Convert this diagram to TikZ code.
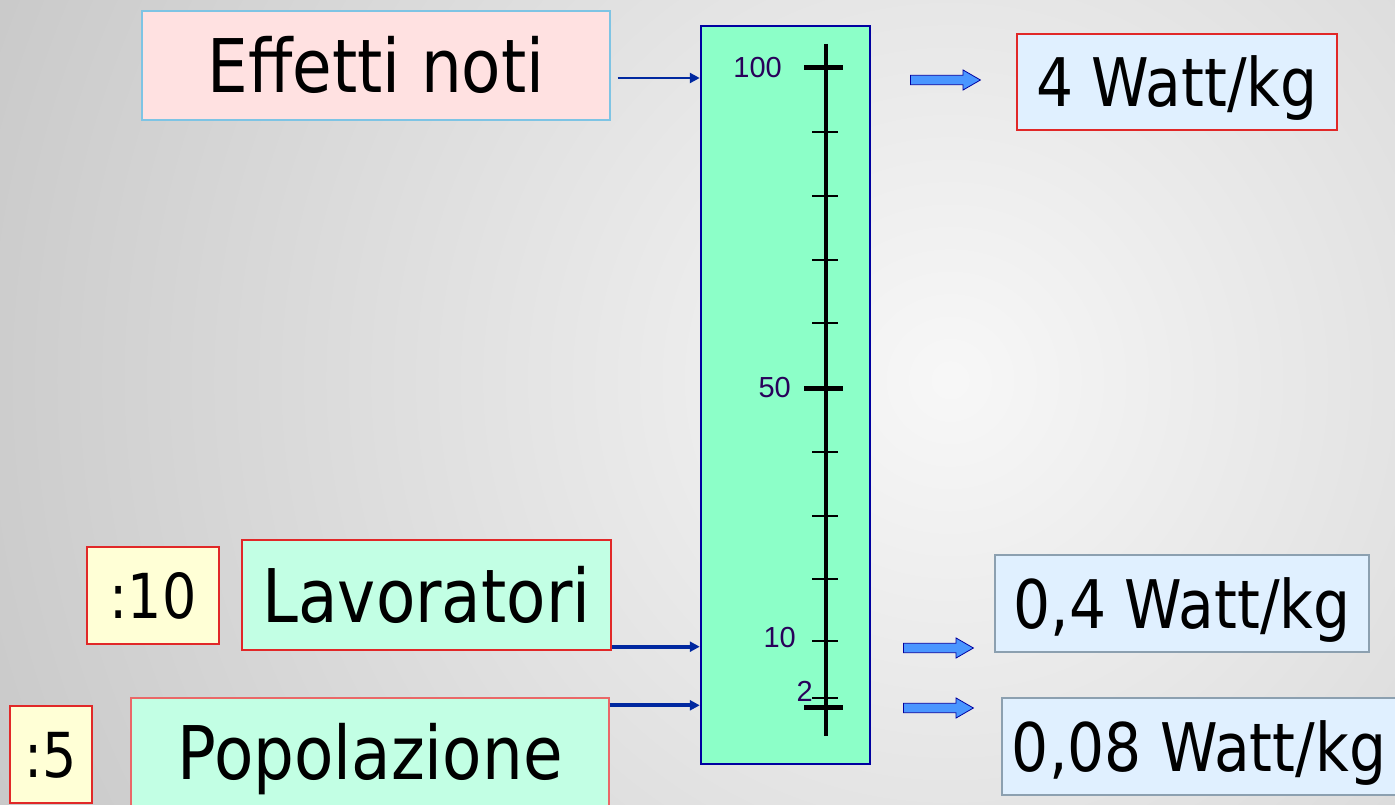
\documentclass[tikz,border=0pt]{standalone}
\usepackage{fontspec}
\setmainfont{DejaVu Sans}[FakeStretch=0.87]
\newfontfamily\ticksfont{Liberation Sans}
\usetikzlibrary{shapes.arrows, arrows.meta, positioning, calc}

\definecolor{pinkbox}{RGB}{255,225,225}
\definecolor{bluebord}{RGB}{126,196,228}
\definecolor{mintbox}{RGB}{194,255,228}
\definecolor{scalegreen}{RGB}{140,255,200}
\definecolor{scalebord}{RGB}{0,0,160}
\definecolor{skybox}{RGB}{224,240,255}
\definecolor{greybord}{RGB}{140,160,176}
\definecolor{creambox}{RGB}{255,255,214}
\definecolor{redbord}{RGB}{225,40,40}
\definecolor{arrowfill}{RGB}{74,150,255}
\definecolor{arrowline}{RGB}{0,40,160}
\definecolor{labelcol}{RGB}{40,0,90}

\begin{document}
\begin{tikzpicture}[
    x=1pt, y=-1pt,
    box/.style={draw, line width=1.4pt, inner sep=0pt, text=black, text depth=0pt},
    bigtext/.style={font=\fontsize{74}{80}\selectfont, text height=54pt},
    midtext/.style={font=\fontsize{67}{75}\selectfont, text height=49pt},
    divtext/.style={font=\fontsize{62}{70}\selectfont, text height=45pt},
    inarrow/.style={draw=arrowline, -{Triangle[length=10pt, width=10pt]}},
    blockarrow/.style={single arrow, draw=scalebord, fill=arrowfill, line width=0.8pt,
        inner sep=0pt, inner ysep=4pt, minimum height=70pt, minimum width=20pt,
        single arrow tip angle=60, single arrow head extend=5pt},
    majortick/.style={line width=5pt},
    minortick/.style={line width=2.5pt},
    ticklabel/.style={font=\ticksfont\fontsize{29}{30}\selectfont, text=labelcol, inner sep=0pt, anchor=east}
]
    % background
    \useasboundingbox (0,0) rectangle (1395,805);
    \begin{scope}
        \clip (0,0) rectangle (1395,805);
        \shade [inner color=white!97!black, outer color=black!38] (950,380) circle (2000pt);
    \end{scope}

    % scale
    \node (scale) [box, line width=2.5pt, draw=scalebord, fill=scalegreen,
        minimum width=169pt, minimum height=738pt] at (785.5,395) {};
    \draw [line width=4pt] (826,44) -- (826,736);
    \foreach \y in {68,388,707}
        \draw [majortick] (804,\y) -- (843,\y);
    \foreach \y in {132,196,260,323,452,516,579,641,698}
        \draw [minortick] (812,\y) -- (838,\y);
    \node (l100) [ticklabel] at (782,68) {100};
    \node (l50) [ticklabel] at (791,388) {50};
    \node (l10) [ticklabel] at (796,638) {10};
    \node (l2) [ticklabel] at (813,691) {2};

    % left boxes
    \node (effetti) [box, draw=bluebord, fill=pinkbox, bigtext,
        minimum width=468pt, minimum height=109pt] at (376,65.5) {Effetti noti};
    \node (lavor) [box, draw=redbord, fill=mintbox, bigtext,
        minimum width=369pt, minimum height=110pt] at (426.5,595) {Lavoratori};
    \node (div10) [box, draw=redbord, fill=creambox, divtext,
        minimum width=132pt, minimum height=97pt] at (153,595.5) {:10};
    \node (popol) [box, draw=redbord!70, fill=mintbox, bigtext,
        minimum width=478pt, minimum height=108pt] at (370,752) {Popolazione};
    \node (div5) [box, draw=redbord, fill=creambox, divtext,
        minimum width=82pt, minimum height=97pt] at (51,754.5) {:5};

    % right boxes
    \node (watt4) [box, draw=redbord, fill=skybox, midtext,
        minimum width=320pt, minimum height=96pt] at (1177,82) {4 Watt/kg};
    \node (watt04) [box, draw=greybord, fill=skybox, midtext,
        minimum width=374pt, minimum height=97pt] at (1182,603.5) {0,4 Watt/kg};
    \node (watt008) [box, draw=greybord, fill=skybox, midtext,
        minimum width=394pt, minimum height=97pt] at (1199,746.5) {0,08 Watt/kg};

    % arrows into the scale
    \path (effetti.east) ++(7,12.5) coordinate (in1);
    \path (lavor.south east) ++(0,-4) coordinate (in2);
    \path (popol.north east) ++(0,8) coordinate (in3);
    \draw [inarrow, line width=2.5pt] (in1) -- (in1 -| scale.west);
    \draw [inarrow, line width=4pt] (in2) -- (in2 -| scale.west);
    \draw [inarrow, line width=4pt] (in3) -- (in3 -| scale.west);

    % arrows out of the scale
    \node (out1) [blockarrow, anchor=west] at (910,80) {};
    \node (out2) [blockarrow, anchor=west] at (903,648) {};
    \node (out3) [blockarrow, anchor=west] at (903,708) {};
\end{tikzpicture}
\end{document}
